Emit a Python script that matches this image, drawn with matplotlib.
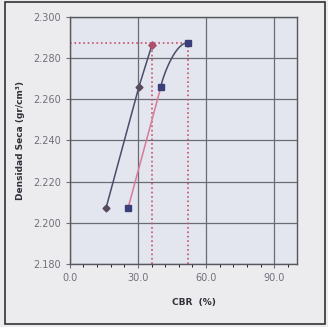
import numpy as np
import matplotlib
matplotlib.use('Agg')
import matplotlib.pyplot as plt
from matplotlib.patches import Rectangle

# Data
cbr_a = [15.9, 30.4, 36.2]
dens_a = [2.207, 2.266, 2.2865]
cbr_b = [25.6, 40.1, 52.1]
dens_b = [2.207, 2.266, 2.2875]
x_ticks = [0.0, 30.0, 60.0, 90.0]
y_ticks = [2.180, 2.200, 2.220, 2.240, 2.260, 2.280, 2.300]

fig = plt.figure(figsize=(3.28, 3.27), dpi=100)
fig.patch.set_facecolor('#ecebee')
ax = fig.add_axes([0.213, 0.193, 0.692, 0.755])
ax.set_facecolor('#e3e6ee')

# series A: dark line, straight segments
ax.plot(cbr_a, dens_a, color='#4a4d6a', lw=1.1, zorder=3)
ax.plot(cbr_a, dens_a, ls='none', marker='D', ms=3.5, color='#5a4a60', zorder=4)
ax.plot(cbr_a[-1], dens_a[-1], ls='none', marker='D', ms=3.5, color='#b0506a', zorder=5)

# series B: pink line with a small bend at the top
t = np.linspace(0, 1, 30)
bx = cbr_b[1] + (cbr_b[2] - cbr_b[1]) * t
by = dens_b[1] + (dens_b[2] - dens_b[1]) * np.sin(t * np.pi / 2) ** 0.8
ax.plot(cbr_b[:2], dens_b[:2], color='#d77a9a', lw=1.1, zorder=3)
ax.plot(bx, by, color='#4a4d6a', lw=1.1, zorder=3)
ax.plot(cbr_b, dens_b, ls='none', marker='s', ms=4, color='#3a3f7a', zorder=4)

# dotted guide lines
ax.plot([0, cbr_b[-1]], [dens_b[-1], dens_b[-1]], color='#c8506a', ls=':', lw=1.2, zorder=2)
ax.plot([cbr_a[-1], cbr_a[-1]], [2.180, dens_a[-1]], color='#c8506a', ls=':', lw=1.2, zorder=2)
ax.plot([cbr_b[-1], cbr_b[-1]], [2.180, dens_b[-1]], color='#c8506a', ls=':', lw=1.2, zorder=2)

ax.set_xlim(0, 100)
ax.set_ylim(2.180, 2.300)
ax.set_xticks(x_ticks)
ax.set_xticklabels(['%.1f' % v for v in x_ticks])
ax.set_yticks(y_ticks)
ax.set_yticklabels(['%.3f' % v for v in y_ticks])
ax.set_xticks(np.arange(0, 100, 6), minor=True)
ax.grid(True, which='major', color='#6a6c74', lw=0.9)
ax.tick_params(labelsize=7, colors='#70707a', length=3)
ax.tick_params(which='minor', length=2)
for s in ax.spines.values():
    s.set_color('#55565e')
    s.set_linewidth(1)

ax.set_ylabel('Densidad Seca (gr/cm³)', fontsize=6.5, fontweight='bold', color='#303038', labelpad=6)
fig.text(0.525, 0.068, 'CBR  (%)', fontsize=6.5, fontweight='bold', color='#303038')

# outer frame of the sheet
fig.patches.append(Rectangle((0.015, 0.01), 0.975, 0.985, transform=fig.transFigure,
                             fill=False, edgecolor='#333333', lw=1.2))

fig.savefig('out.png', dpi=100, facecolor=fig.get_facecolor())
